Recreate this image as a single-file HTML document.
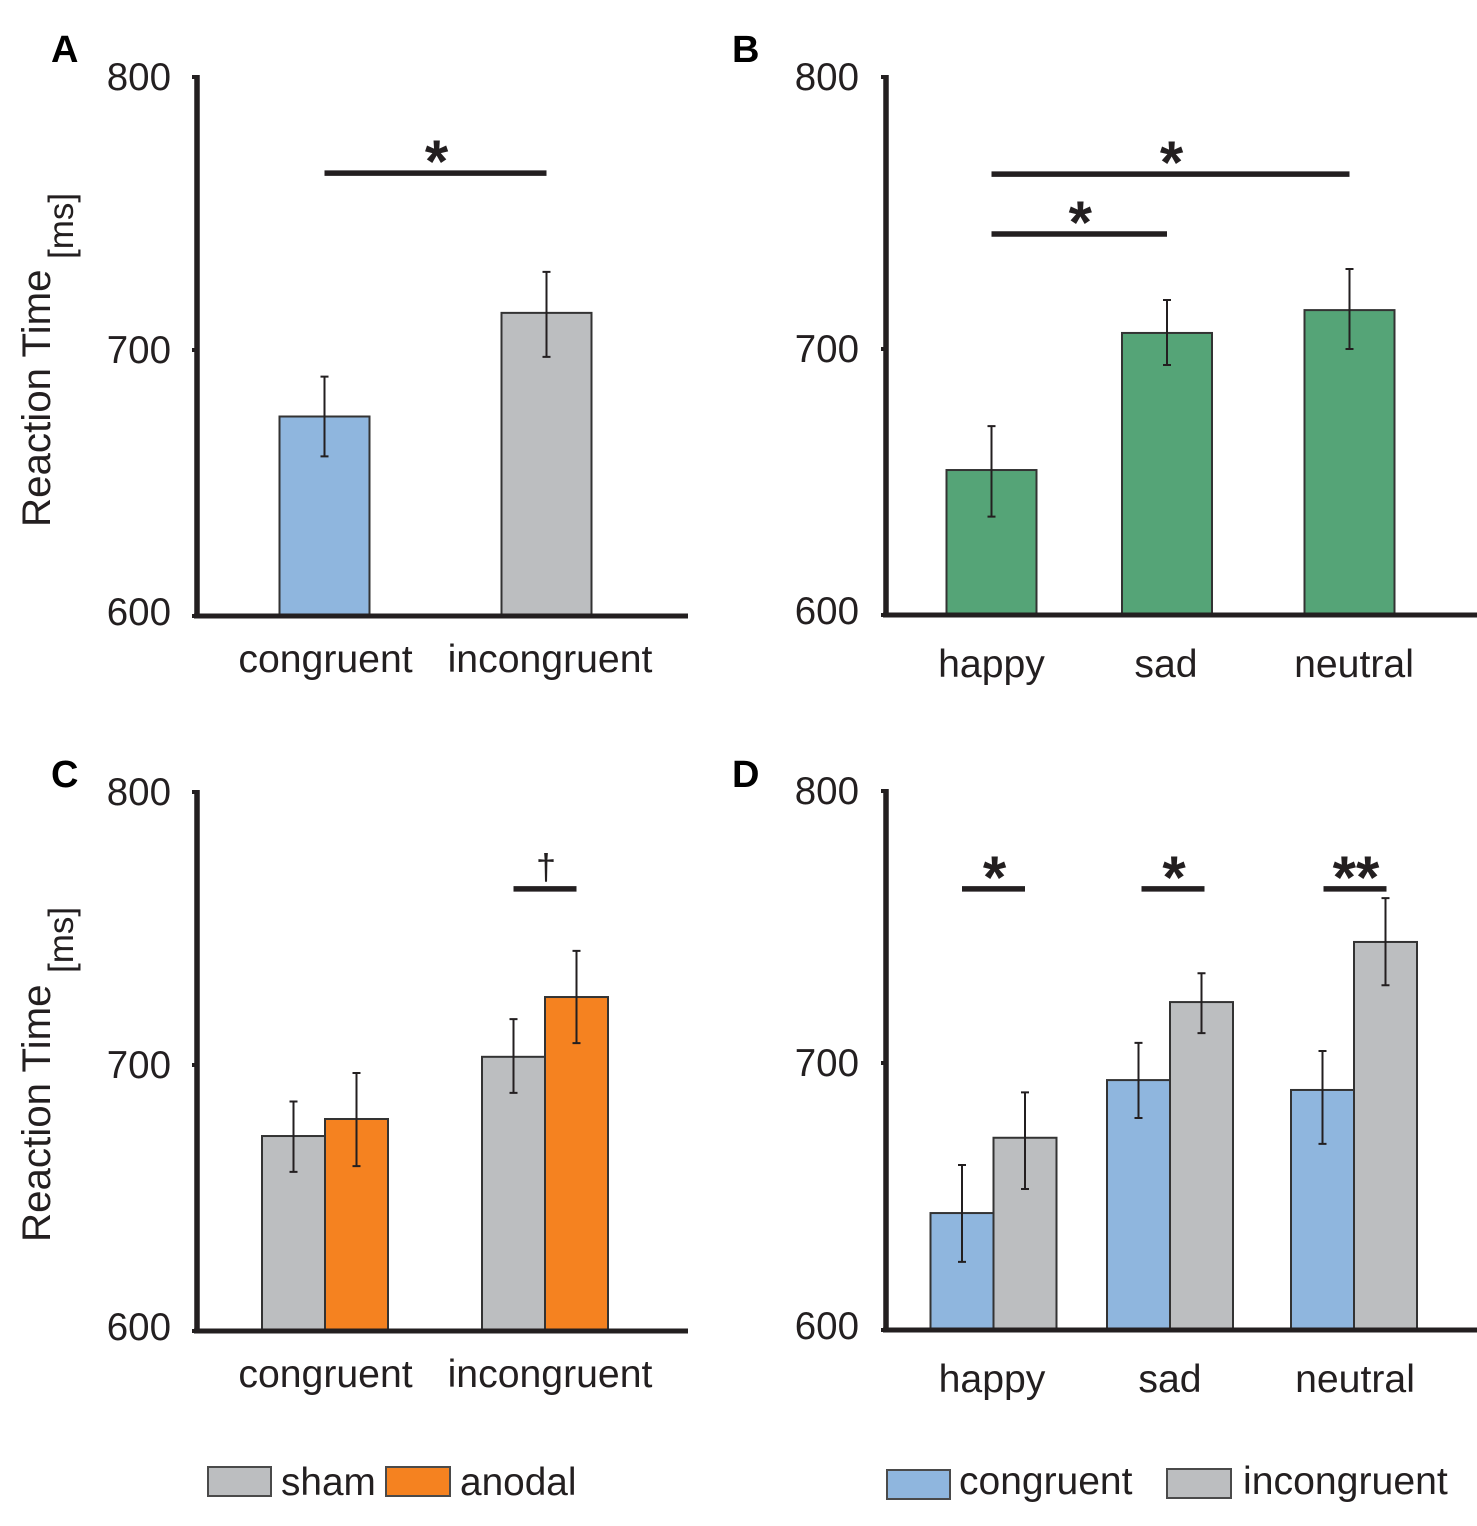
<!DOCTYPE html>
<html lang="en">
<head>
<meta charset="utf-8">
<title>Reaction time panels</title>
<style>
html,body{margin:0;padding:0;background:#fff;width:1477px;height:1526px;overflow:hidden}
svg{display:block}
text{font-family:"Liberation Sans",sans-serif;fill:#231f20}
</style>
</head>
<body>
<svg id="figure" xmlns="http://www.w3.org/2000/svg" width="1477" height="1526" viewBox="0 0 1477 1526">
  <rect width="1477" height="1526" fill="#ffffff"/>
  <text x="51" y="62" font-size="38" font-weight="bold" style="fill:#000">A</text>
  <text x="732" y="62" font-size="38" font-weight="bold" style="fill:#000">B</text>
  <text x="51" y="787" font-size="38" font-weight="bold" style="fill:#000">C</text>
  <text x="732" y="787" font-size="38" font-weight="bold" style="fill:#000">D</text>
  <text transform="translate(50,527) rotate(-90)" font-size="40.3">Reaction Time</text>
  <text transform="translate(73,259) rotate(-90)" font-size="35">[ms]</text>
  <text transform="translate(50,1242) rotate(-90)" font-size="40.3">Reaction Time</text>
  <text transform="translate(73,973) rotate(-90)" font-size="35">[ms]</text>

  <g>
    <rect x="208" y="1467" width="63" height="29" fill="#bcbec0" stroke="#4a4a4a" stroke-width="2"/>
    <text x="281" y="1495" font-size="38.8">sham</text>
    <rect x="386" y="1467" width="64" height="29" fill="#f58220" stroke="#4a4a4a" stroke-width="2"/>
    <text x="460" y="1495" font-size="38.8">anodal</text>
  </g>
  <g>
    <rect x="887" y="1470" width="63" height="29" fill="#8fb6de" stroke="#4a4a4a" stroke-width="2"/>
    <text x="959" y="1494" font-size="39">congruent</text>
    <rect x="1167" y="1469" width="64" height="29" fill="#bcbec0" stroke="#4a4a4a" stroke-width="2"/>
    <text x="1243" y="1494" font-size="39.2">incongruent</text>
  </g>
</svg>
<script>
// ---- shared axis data ----
const yTickValues = [600, 700, 800];
const yTickLabels = ['600', '700', '800'];

// ---- panel A ----
const panelACategories = ['congruent', 'incongruent'];
const panelAValues = [675, 713.6];
const panelAErrHigh = [690, 728.6];
const panelAErrLow = [660, 697.4];

// ---- panel B ----
const panelBCategories = ['happy', 'sad', 'neutral'];
const panelBValues = [654.5, 705.9, 714.3];
const panelBErrHigh = [671, 718, 729.4];
const panelBErrLow = [637, 694, 700];

// ---- panel C ----
const panelCCategories = ['congruent', 'incongruent'];
const panelCSham = [673.3, 703];
const panelCShamHigh = [686.3, 716.8];
const panelCShamLow = [659.8, 689.5];
const panelCAnodal = [679.7, 724.9];
const panelCAnodalHigh = [697, 741.8];
const panelCAnodalLow = [662, 708];

// ---- panel D ----
const panelDCategories = ['happy', 'sad', 'neutral'];
const panelDCongruent = [643.8, 693.6, 689.9];
const panelDCongruentHigh = [661.8, 707.4, 704.4];
const panelDCongruentLow = [625.5, 679.4, 669.7];
const panelDIncongruent = [672, 722.4, 744.5];
const panelDIncongruentHigh = [689, 733, 760.6];
const panelDIncongruentLow = [652.8, 711, 728.6];

// ---- significance annotations: [category, series] endpoints, level in ms, mark ----
const panelASig = [{from: [0, 0], to: [1, 0], level: 764.8, mark: '*'}];
const panelBSig = [
  {from: [0, 0], to: [2, 0], level: 764.3, mark: '*'},
  {from: [0, 0], to: [1, 0], level: 742.3, mark: '*'}
];
const panelCSig = [{from: [1, 0], to: [1, 1], level: 764.5, mark: '†'}];
const panelDSig = [
  {from: [0, 0], to: [0, 1], level: 764, mark: '*'},
  {from: [1, 0], to: [1, 1], level: 764, mark: '*'},
  {from: [2, 0], to: [2, 1], level: 764, mark: '**'}
];

const SVG_NS = 'http://www.w3.org/2000/svg';
const INK = '#231f20';
const BLUE = '#8fb6de';
const GREY = '#bcbec0';
const ORANGE = '#f58220';
const GREEN = '#55a477';

const panels = [
  {
    id: 'a', categories: panelACategories, sig: panelASig,
    series: [{name: 'mean', values: panelAValues, high: panelAErrHigh, low: panelAErrLow, colors: [BLUE, GREY]}],
    axisX: 197, axisEnd: 688, yPixels: [616, 350, 77], tickGap: 26, sigNudge: [0],
    catPixels: [324.5, 546.5], barWidth: 90, labelShift: [1, 3.5], labelBaseline: 672
  },
  {
    id: 'b', categories: panelBCategories, sig: panelBSig,
    series: [{name: 'mean', values: panelBValues, high: panelBErrHigh, low: panelBErrLow, colors: [GREEN, GREEN, GREEN]}],
    axisX: 886, axisEnd: 1477, yPixels: [615, 349, 77], tickGap: 27, sigNudge: [0, 0],
    catPixels: [991.5, 1167, 1349.5], barWidth: 90, labelShift: [0, -1, 4.5], labelBaseline: 677
  },
  {
    id: 'c', categories: panelCCategories, sig: panelCSig,
    series: [
      {name: 'sham', values: panelCSham, high: panelCShamHigh, low: panelCShamLow, colors: [GREY, GREY]},
      {name: 'anodal', values: panelCAnodal, high: panelCAnodalHigh, low: panelCAnodalLow, colors: [ORANGE, ORANGE]}
    ],
    axisX: 197, axisEnd: 688, yPixels: [1331, 1065, 792], tickGap: 26, sigNudge: [0],
    catPixels: [325, 545], barWidth: 63, labelShift: [0.5, 5], labelBaseline: 1387
  },
  {
    id: 'd', categories: panelDCategories, sig: panelDSig,
    series: [
      {name: 'congruent', values: panelDCongruent, high: panelDCongruentHigh, low: panelDCongruentLow, colors: [BLUE, BLUE, BLUE]},
      {name: 'incongruent', values: panelDIncongruent, high: panelDIncongruentHigh, low: panelDIncongruentLow, colors: [GREY, GREY, GREY]}
    ],
    axisX: 886, axisEnd: 1477, yPixels: [1330, 1063, 791], tickGap: 27, sigNudge: [0, 3, 1],
    catPixels: [993.5, 1170, 1354], barWidth: 63, labelShift: [-1.5, 0, 1], labelBaseline: 1392
  }
];

const figure = document.getElementById('figure');

function make(parent, tag, attrs, name, text) {
  const el = document.createElementNS(SVG_NS, tag);
  for (const key in attrs) el.setAttribute(key, attrs[key]);
  
  
  if (text !== undefined) el.textContent = text;
  parent.appendChild(el);
  return el;
}

// Piecewise-linear y axis through the three tick positions.
function yScale(panel, value) {
  const px = panel.yPixels;
  if (value <= yTickValues[1]) {
    return px[0] + (value - yTickValues[0]) / (yTickValues[1] - yTickValues[0]) * (px[1] - px[0]);
  }
  return px[1] + (value - yTickValues[1]) / (yTickValues[2] - yTickValues[1]) * (px[2] - px[1]);
}

// Centre of a bar for a category / series pair.
function barCenter(panel, cat, ser) {
  const n = panel.series.length;
  return panel.catPixels[cat] + (ser - (n - 1) / 2) * panel.barWidth;
}

function drawPanel(panel) {
  const g = make(figure, 'g', {}, 'panel-' + panel.id);
  const base = yScale(panel, yTickValues[0]);

  panel.series.forEach(function (s, ser) {
    panel.categories.forEach(function (cat, i) {
      const cx = barCenter(panel, i, ser);
      const top = yScale(panel, s.values[i]);
      const slug = 'panel-' + panel.id + '-' + cat + '-' + s.name;
      make(g, 'rect', {
        x: cx - panel.barWidth / 2, y: top,
        width: panel.barWidth, height: base - top,
        fill: s.colors[i], stroke: '#333333', 'stroke-width': 2
      }, 'bar-' + slug);
    });
  });

  panel.series.forEach(function (s, ser) {
    panel.categories.forEach(function (cat, i) {
      const cx = barCenter(panel, i, ser);
      const yHi = yScale(panel, s.high[i]);
      const yLo = yScale(panel, s.low[i]);
      const slug = 'panel-' + panel.id + '-' + cat + '-' + s.name;
      const d = 'M' + cx + ' ' + yHi + 'V' + yLo +
        'M' + (cx - 4) + ' ' + yHi + 'H' + (cx + 4) +
        'M' + (cx - 4) + ' ' + yLo + 'H' + (cx + 4);
      make(g, 'path', {d: d, fill: 'none', stroke: INK, 'stroke-width': 2}, 'error-bar-' + slug);
    });
  });

  make(g, 'line', {
    x1: panel.axisX, x2: panel.axisX,
    y1: yScale(panel, yTickValues[2]) - 2, y2: base + 2,
    stroke: INK, 'stroke-width': 5.5
  }, 'y-axis-line-' + panel.id);
  make(g, 'line', {
    x1: panel.axisX - 3, x2: panel.axisEnd,
    y1: base, y2: base,
    stroke: INK, 'stroke-width': 5
  }, 'x-axis-line-' + panel.id);

  yTickValues.forEach(function (v, i) {
    const y = yScale(panel, v);
    make(g, 'line', {
      x1: panel.axisX - 5, x2: panel.axisX,
      y1: y, y2: y, stroke: INK, 'stroke-width': 4
    }, 'y-tick-' + panel.id + '-' + yTickLabels[i]);
    make(g, 'text', {
      x: panel.axisX - panel.tickGap, y: y + (i === 0 ? 9 : 13),
      'text-anchor': 'end', 'font-size': 38.5
    }, 'y-tick-label-' + panel.id + '-' + yTickLabels[i], yTickLabels[i]);
  });

  panel.categories.forEach(function (cat, i) {
    make(g, 'text', {
      x: panel.catPixels[i] + panel.labelShift[i], y: panel.labelBaseline,
      'text-anchor': 'middle', 'font-size': 39.2
    }, 'x-label-' + panel.id + '-' + cat, cat);
  });

  panel.sig.forEach(function (s, i) {
    const nudge = panel.sigNudge[i];
    const x1 = barCenter(panel, s.from[0], s.from[1]) + nudge;
    const x2 = barCenter(panel, s.to[0], s.to[1]) + nudge;
    const y = yScale(panel, s.level);
    make(g, 'line', {
      x1: x1, x2: x2, y1: y, y2: y, stroke: INK, 'stroke-width': 5.5
    }, 'significance-bar-' + panel.id + '-' + (i + 1));
    const isDagger = s.mark === '†';
    make(g, 'text', {
      x: (x1 + x2) / 2 + 1,
      y: isDagger ? y - 10 : y + 9,
      'text-anchor': 'middle',
      'font-size': isDagger ? 36 : 60,
      'font-weight': isDagger ? 'normal' : 'bold'
    }, 'significance-mark-' + panel.id + '-' + (i + 1), s.mark);
  });
}

panels.forEach(drawPanel);
</script>
</body>
</html>
